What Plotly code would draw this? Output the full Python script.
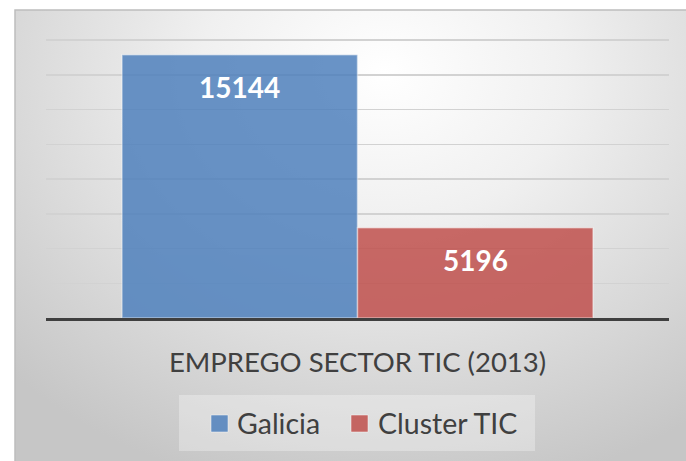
import plotly.graph_objects as go

# ---- data ----
category = ["EMPREGO SECTOR TIC (2013)"]
series_names = ["Galicia", "Cluster TIC"]
series_values = [15144, 5196]
series_colors = ["#4F81BD", "#C0504D"]
y_ticks = [0, 2000, 4000, 6000, 8000, 10000, 12000, 14000, 16000]

W, H = 686, 461
def px(x):
    return x / W
def py(y):
    return 1 - y / H

fig = go.Figure()

# background radial gradient (on a full-frame helper axis)
cx, cy = 0.55, 0.86
rx, ry = 0.78, 0.95
fig.add_trace(go.Scatter(
    x=[cx - rx, cx + rx, cx + rx, cx - rx, cx - rx],
    y=[cy - ry, cy - ry, cy + ry, cy + ry, cy - ry],
    mode="lines", line=dict(width=0), fill="toself",
    fillgradient=dict(type="radial",
                      colorscale=[[0, "#ffffff"], [0.35, "#f0f0f0"], [0.75, "#d6d6d6"], [1, "#c6c6c6"]]),
    hoverinfo="skip", showlegend=False, xaxis="x", yaxis="y"))

bar_w_frac = (1 - 0.244) / 2
plot_w = 669 - 46
for name, val, col in zip(series_names, series_values, series_colors):
    fig.add_trace(go.Bar(
        x=category, y=[val], name=name, xaxis="x2", yaxis="y2",
        marker=dict(color=col, opacity=0.85,
                    line=dict(color="rgba(255,255,255,0.45)", width=1.5)),
        showlegend=False, hoverinfo="skip"))

annotations = []
n = len(series_values)
for i, val in enumerate(series_values):
    off = (i - (n - 1) / 2) * bar_w_frac * plot_w
    annotations.append(dict(
        x=category[0], y=val, xref="x2", yref="y2", xshift=off, yshift=-32,
        text="<b>%d</b>" % val, showarrow=False, yanchor="middle",
        font=dict(family="Lato", size=28, color="white")))

# custom legend
shapes = []
shapes.append(dict(type="rect", xref="paper", yref="paper",
                   x0=px(179), x1=px(535), y0=py(451), y1=py(395),
                   fillcolor="rgba(255,255,255,0.3)", line=dict(width=0), layer="above"))
legend_swatch_x = [211, 351]
legend_text_x = [235, 376]
for i, name in enumerate(series_names):
    shapes.append(dict(type="rect", xref="paper", yref="paper",
                       x0=px(legend_swatch_x[i]), x1=px(legend_swatch_x[i] + 17),
                       y0=py(432), y1=py(415),
                       fillcolor=series_colors[i], opacity=0.85,
                       line=dict(color="rgba(255,255,255,0.5)", width=1)))
    annotations.append(dict(x=px(legend_text_x[i]), y=py(423), xref="paper", yref="paper",
                            text=name, showarrow=False, xanchor="left", yanchor="middle",
                            font=dict(family="Lato", size=28.5, color="#404040")))

# frame edge
shapes.append(dict(type="rect", xref="paper", yref="paper",
                   x0=px(15), x1=px(687), y0=py(462), y1=py(10),
                   line=dict(color="#bdbdbd", width=1.5), fillcolor="rgba(0,0,0,0)"))

y_top = 16100
px_per_unit = (318 - 40) / 16000

fig.update_layout(
    width=W, height=H,
    margin=dict(l=0, r=0, t=0, b=0),
    paper_bgcolor="white", plot_bgcolor="rgba(0,0,0,0)",
    barmode="group", bargap=0.244, bargroupgap=0,
    showlegend=False,
    xaxis=dict(domain=[px(15), 1], range=[0, 1], visible=False, fixedrange=True),
    yaxis=dict(domain=[0, py(10)], range=[0, 1], visible=False, fixedrange=True),
    xaxis2=dict(domain=[px(46), px(669)], anchor="y2", type="category",
                showline=True, linecolor="#3f3f3f", linewidth=3,
                ticks="", ticklabelstandoff=18,
                tickfont=dict(family="Lato", size=27.5, color="#404040"),
                showgrid=False, zeroline=False, fixedrange=True),
    yaxis2=dict(domain=[py(318), py(318 - y_top * px_per_unit)], anchor="x2", range=[0, y_top],
                tickvals=y_ticks, showticklabels=False, fixedrange=True,
                showgrid=True, gridcolor="#d2d2d2", gridwidth=1.5, zeroline=False),
    shapes=shapes, annotations=annotations,
)

fig.write_html("out.html", config={"displayModeBar": False, "staticPlot": True},
               post_script="document.body.style.margin='0';document.body.style.overflow='hidden';")
